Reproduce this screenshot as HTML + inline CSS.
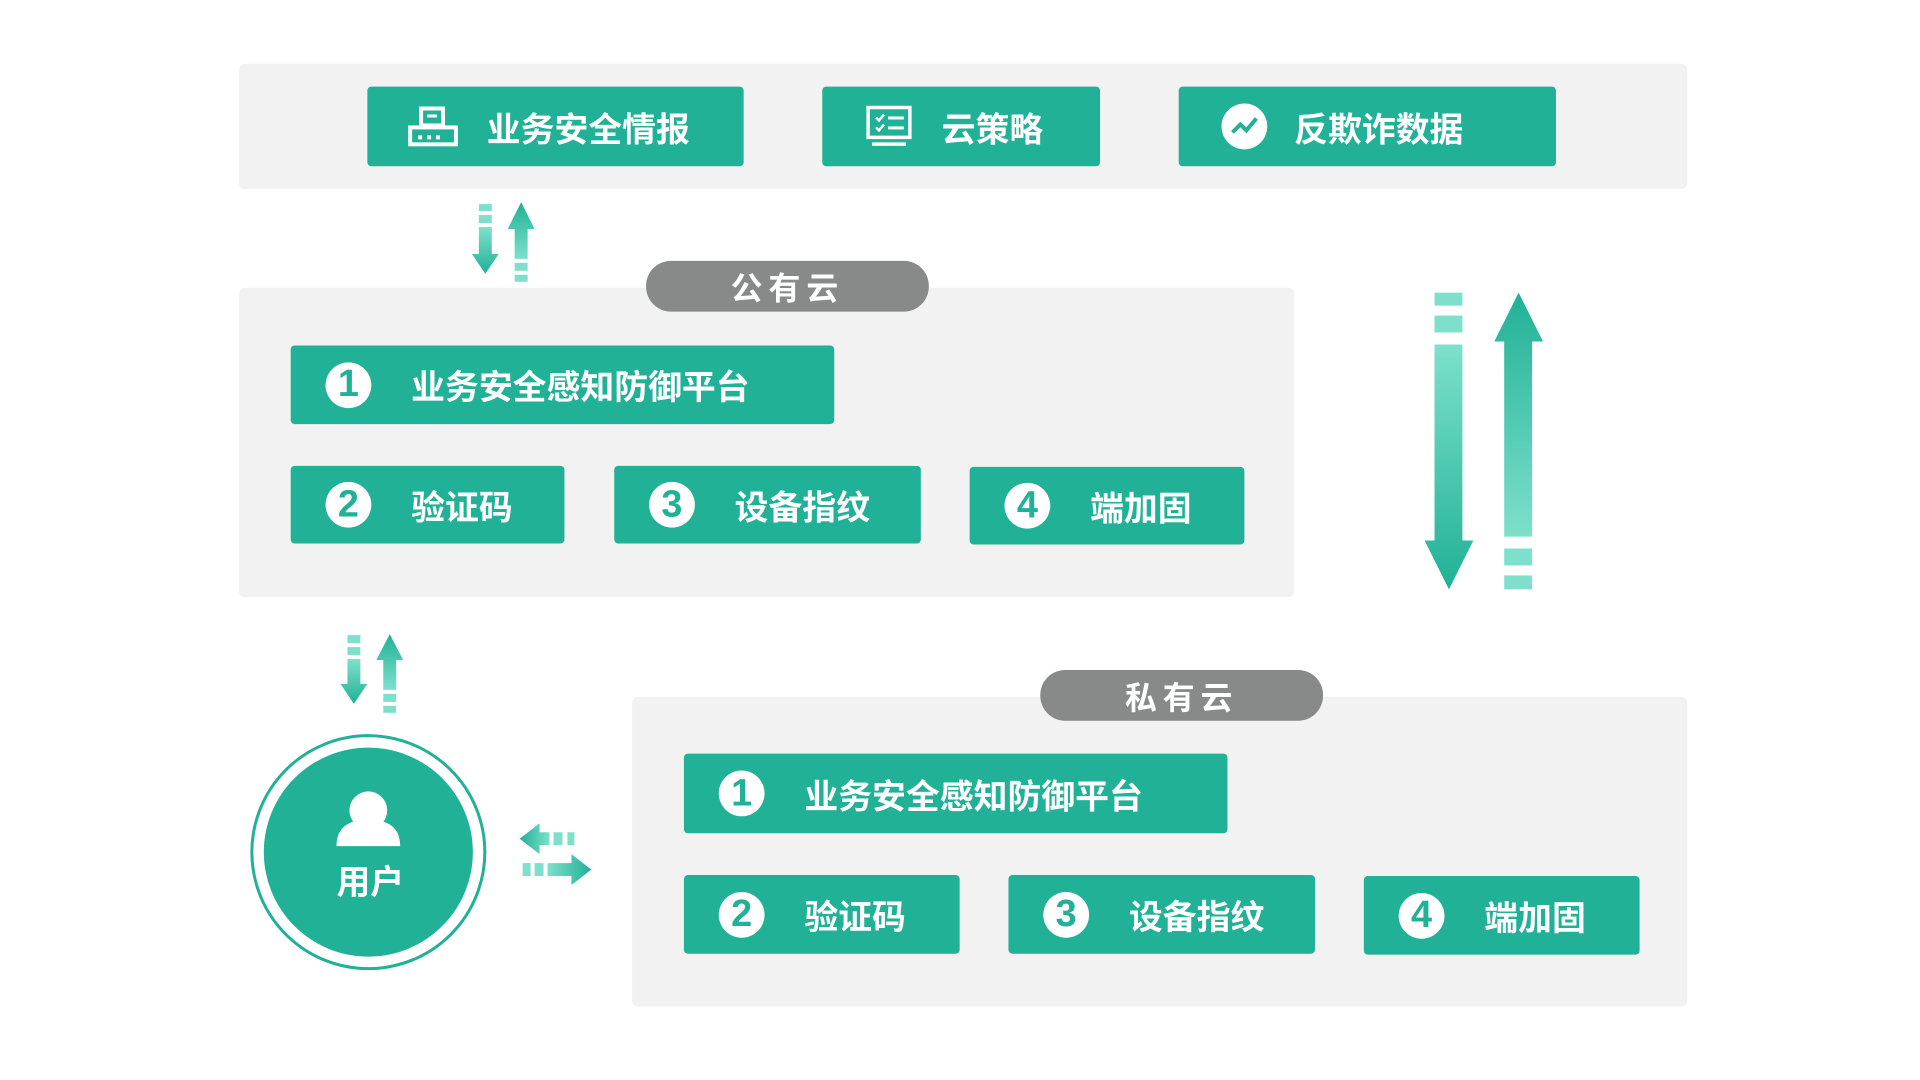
<!DOCTYPE html>
<html><head><meta charset="utf-8"><style>
body{margin:0;width:1920px;height:1080px;background:#fff;position:relative;overflow:hidden;font-family:"Liberation Sans","Noto Sans CJK SC",sans-serif;}
#w{position:absolute;left:0;top:0;width:1920px;height:1080px;transform:scale(0.9955);transform-origin:0 0;}
.p{position:absolute;background:#f3f2f2;border-radius:6px;}
.b{position:absolute;background:#20b196;border-radius:4px;color:#fff;font-weight:bold;font-size:34px;display:flex;align-items:center;box-sizing:border-box;}
.n{width:46px;height:46px;border-radius:50%;background:#fff;color:#20b196;font-size:38px;font-weight:900;display:flex;align-items:center;justify-content:center;margin-left:35px;margin-right:40px;font-family:"Liberation Sans",sans-serif;}
.pill{position:absolute;background:#878a89;border-radius:25px;color:#fff;font-weight:bold;font-size:32px;display:flex;align-items:center;justify-content:center;letter-spacing:6px;}
svg{position:absolute;left:0;top:0;}
</style></head><body><div id="w">
<div class="p" style="left:240px;top:64px;width:1455px;height:126px"></div>
<div class="p" style="left:240px;top:289px;width:1060px;height:311px"></div>
<div class="p" style="left:635px;top:700px;width:1060px;height:311px"></div>

<div class="b" style="left:369px;top:87px;width:378px;height:80px;padding-left:40px">
<svg style="position:static;margin-right:28px" width="52" height="42" viewBox="0 0 52 42"><rect x="14" y="3" width="22" height="17" fill="none" stroke="#fff" stroke-width="4"/><rect x="20" y="9" width="10" height="3" fill="#fff"/><rect x="3" y="22" width="46" height="17" fill="none" stroke="#fff" stroke-width="4"/><rect x="11" y="30" width="4" height="4" fill="#fff"/><rect x="20" y="30" width="4" height="4" fill="#fff"/><rect x="29" y="30" width="4" height="4" fill="#fff"/></svg>业务安全情报</div>
<div class="b" style="left:826px;top:87px;width:279px;height:80px;padding-left:44px">
<svg style="position:static;margin-right:30px" width="46" height="42" viewBox="0 0 46 42"><rect x="2" y="2" width="42" height="30" fill="none" stroke="#fff" stroke-width="3.5"/><rect x="6" y="37" width="34" height="3.5" fill="#fff"/><path d="M10 12l3 3 5-6M10 22l3 3 5-6" stroke="#fff" stroke-width="2.5" fill="none"/><rect x="22" y="11" width="16" height="3" fill="#fff"/><rect x="22" y="21" width="16" height="3" fill="#fff"/></svg>云策略</div>
<div class="b" style="left:1184px;top:87px;width:379px;height:80px;padding-left:42px">
<svg style="position:static;margin-right:26px" width="48" height="48" viewBox="0 0 48 48"><circle cx="24" cy="24" r="23" fill="#fff"/><path d="M12 30l8-8 6 6 10-12" stroke="#20b196" stroke-width="4" fill="none"/></svg>反欺诈数据</div>

<div class="pill" style="left:649px;top:262px;width:284px;height:51px">公有云</div>
<div class="pill" style="left:1045px;top:673px;width:284px;height:51px">私有云</div>

<div class="b" style="left:292px;top:347px;width:546px;height:79px"><div class="n">1</div>业务安全感知防御平台</div>
<div class="b" style="left:292px;top:468px;width:275px;height:78px"><div class="n">2</div>验证码</div>
<div class="b" style="left:617px;top:468px;width:308px;height:78px"><div class="n">3</div>设备指纹</div>
<div class="b" style="left:974px;top:469px;width:276px;height:78px"><div class="n">4</div>端加固</div>

<div class="b" style="left:687px;top:757px;width:546px;height:80px"><div class="n">1</div>业务安全感知防御平台</div>
<div class="b" style="left:687px;top:879px;width:277px;height:79px"><div class="n">2</div>验证码</div>
<div class="b" style="left:1013px;top:879px;width:308px;height:79px"><div class="n">3</div>设备指纹</div>
<div class="b" style="left:1370px;top:880px;width:277px;height:79px"><div class="n">4</div>端加固</div>

<svg width="1920" height="1080">
<defs>
<linearGradient id="gd" x1="0" y1="0" x2="0" y2="1"><stop offset="0" stop-color="#7ee0cb"/><stop offset="1" stop-color="#20b196"/></linearGradient>
<linearGradient id="gu" x1="0" y1="1" x2="0" y2="0"><stop offset="0" stop-color="#7ee0cb"/><stop offset="1" stop-color="#20b196"/></linearGradient>
<linearGradient id="gl" x1="1" y1="0" x2="0" y2="0"><stop offset="0" stop-color="#7ee0cb"/><stop offset="1" stop-color="#20b196"/></linearGradient>
<linearGradient id="gr" x1="0" y1="0" x2="1" y2="0"><stop offset="0" stop-color="#7ee0cb"/><stop offset="1" stop-color="#20b196"/></linearGradient>
</defs>
<rect x="1441" y="294" width="28" height="13" fill="#7ee0cb"/><rect x="1441" y="317" width="28" height="17" fill="#7ee0cb"/>
<path d="M1441 346h28v197h11l-24.5 49-24.5-49h10z" fill="url(#gd)"/>
<path d="M1511 539h28v-196h11l-24.5-49-24.5 49h10z" fill="url(#gu)"/>
<rect x="1511" y="551" width="28" height="17" fill="#7ee0cb"/><rect x="1511" y="578" width="28" height="14" fill="#7ee0cb"/>
<g transform="translate(477,203)">
<rect x="4" y="2" width="13" height="7" fill="#7ee0cb"/><rect x="4" y="13" width="13" height="8" fill="#7ee0cb"/>
<path d="M4 25h13v27h7l-13.5 20-13.5-20h7z" fill="url(#gd)"/>
<path d="M40 57h13v-30h7l-13.5-27-13.5 27h7z" fill="url(#gu)"/>
<rect x="40" y="61" width="13" height="8" fill="#7ee0cb"/><rect x="40" y="73" width="13" height="7" fill="#7ee0cb"/>
</g>
<g transform="translate(345,637)">
<rect x="4" y="1" width="13" height="8" fill="#7ee0cb"/><rect x="4" y="13" width="13" height="8" fill="#7ee0cb"/>
<path d="M4 25h13v25h7l-13.5 20-13.5-20h7z" fill="url(#gd)"/>
<path d="M40 56h13v-30h7l-13.5-26-13.5 26h7z" fill="url(#gu)"/>
<rect x="40" y="60" width="13" height="8" fill="#7ee0cb"/><rect x="40" y="72" width="13" height="7" fill="#7ee0cb"/>
</g>
<g transform="translate(520,824)">
<path d="M32 12v13h-10v9l-20-15.5 20-15.5v9z" fill="url(#gl)"/>
<rect x="36" y="12" width="9" height="13" fill="#7ee0cb"/><rect x="50" y="12" width="7" height="13" fill="#7ee0cb"/>
<rect x="5" y="43" width="8" height="13" fill="#7ee0cb"/><rect x="17" y="43" width="9" height="13" fill="#7ee0cb"/>
<path d="M30 43h24v-9l20 15.5-20 15.5v-9h-24z" fill="url(#gr)"/>
</g>
<circle cx="370" cy="856" r="117" fill="none" stroke="#20b196" stroke-width="3"/>
<circle cx="370" cy="856" r="105" fill="#20b196"/>
<circle cx="370" cy="814" r="19" fill="#fff"/>
<path d="M338 850q0-20 18-25 14 8 28 0 18 5 18 25z" fill="#fff"/>
<text x="372" y="898" fill="#fff" font-size="34" font-weight="bold" text-anchor="middle" font-family="Liberation Sans, Noto Sans CJK SC, sans-serif">用户</text>
</svg>
</div></body></html>
